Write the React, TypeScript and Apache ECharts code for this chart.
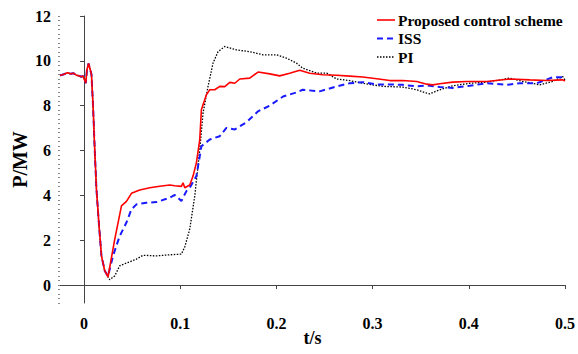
import React, { useEffect, useRef } from "react";
import * as echarts from "echarts";

const seriesNames = ["Proposed control scheme", "ISS", "PI"];

// shared pre-fault and initial drop segment [t (s), P (MW)]
const commonStart: [number, number][] = [
  [-0.025, 9.35], [-0.021, 9.4], [-0.017, 9.47], [-0.014, 9.42], [-0.011, 9.45],
  [-0.008, 9.36], [-0.005, 9.33], [-0.003, 9.29], [-0.001, 9.32], [0.0018, 9.0],
  [0.003, 9.6], [0.0047, 9.88], [0.0077, 9.4], [0.0094, 7.97], [0.0111, 6.04],
  [0.0129, 4.27], [0.0156, 2.64], [0.0181, 1.3], [0.0215, 0.64],
];

const proposedValues: [number, number][] = [
  [0.0249, 0.36], [0.0319, 2.04], [0.0389, 3.53], [0.0441, 3.73], [0.0493, 4.09],
  [0.0579, 4.24], [0.0683, 4.34], [0.0787, 4.41], [0.0891, 4.46], [0.0943, 4.43],
  [0.1012, 4.4], [0.1029, 4.56], [0.1047, 4.34], [0.1099, 4.46], [0.1133, 4.86],
  [0.1168, 5.45], [0.1203, 6.49], [0.122, 7.82], [0.1237, 8.04], [0.1272, 8.49],
  [0.1307, 8.71], [0.1359, 8.71], [0.1411, 8.86], [0.1463, 8.85], [0.1515, 9.04],
  [0.1567, 9.0], [0.1619, 9.19], [0.1722, 9.23], [0.1809, 9.5], [0.193, 9.42],
  [0.2034, 9.33], [0.2138, 9.45], [0.2242, 9.58], [0.2346, 9.45], [0.2481, 9.38],
  [0.2627, 9.36], [0.2762, 9.32], [0.2897, 9.28], [0.3043, 9.2], [0.3178, 9.12],
  [0.3313, 9.12], [0.3459, 9.08], [0.3563, 8.96], [0.3625, 8.93], [0.3698, 8.98],
  [0.3833, 9.05], [0.3979, 9.08], [0.4187, 9.08], [0.4426, 9.19], [0.4634, 9.15],
  [0.481, 9.12], [0.4977, 9.15], [0.5, 9.1],
];

const issValues: [number, number][] = [
  [0.0249, 0.4], [0.0301, 1.3], [0.0371, 2.19], [0.0441, 2.79], [0.0493, 3.38],
  [0.0545, 3.6], [0.0649, 3.67], [0.0753, 3.7], [0.0857, 3.85], [0.0891, 3.9],
  [0.0943, 4.02], [0.1012, 3.75], [0.1064, 4.19], [0.1099, 4.34], [0.1168, 4.86],
  [0.1203, 5.75], [0.122, 6.19], [0.1307, 6.49], [0.1411, 6.64], [0.148, 7.01],
  [0.1567, 6.94], [0.1688, 7.26], [0.1809, 7.75], [0.193, 8.0], [0.2069, 8.41],
  [0.2208, 8.59], [0.2273, 8.71], [0.245, 8.64], [0.2627, 8.86], [0.2762, 9.0],
  [0.2897, 9.05], [0.3043, 8.95], [0.3178, 8.95], [0.3313, 8.93], [0.3459, 8.86],
  [0.3563, 8.9], [0.3698, 8.83], [0.3833, 8.79], [0.401, 8.89], [0.4187, 9.0],
  [0.4395, 8.93], [0.453, 9.0], [0.4706, 9.0], [0.4873, 9.27], [0.4977, 9.27],
  [0.5, 9.2],
];

const piValues: [number, number][] = [
  [0.0249, 0.36], [0.0267, 0.24], [0.0319, 0.41], [0.0371, 0.86], [0.0441, 0.98],
  [0.0545, 1.16], [0.0613, 1.33], [0.0753, 1.3], [0.0891, 1.35], [0.1012, 1.38],
  [0.1047, 1.7], [0.1099, 2.5], [0.1151, 3.97], [0.1203, 6.04], [0.1237, 7.67],
  [0.1289, 8.86], [0.1341, 9.9], [0.1393, 10.41], [0.1463, 10.64], [0.1584, 10.49],
  [0.1722, 10.41], [0.1861, 10.27], [0.2, 10.27], [0.2104, 10.12], [0.2208, 9.9],
  [0.2273, 9.67], [0.2419, 9.45], [0.2523, 9.45], [0.2627, 9.19], [0.2762, 9.12],
  [0.2897, 9.0], [0.3105, 8.86], [0.3313, 8.83], [0.3459, 8.71], [0.3563, 8.56],
  [0.3594, 8.53], [0.3698, 8.71], [0.3833, 8.89], [0.401, 9.0], [0.4187, 9.05],
  [0.4426, 9.23], [0.4561, 9.08], [0.4738, 8.93], [0.4873, 9.08], [0.4977, 9.3],
  [0.5, 9.15],
];

const xTickValues = [0, 0.1, 0.2, 0.3, 0.4, 0.5];
const yTickValues = [0, 2, 4, 6, 8, 10, 12];

const FONT = "'Liberation Serif', 'Times New Roman', serif";

const lineStyles = [
  { color: "#ff0000", width: 1.6, type: "solid" as any },
  { color: "#1a1aff", width: 2, type: [6, 4] as any },
  { color: "#000000", width: 1.3, type: [1.5, 1.5] as any },
];

export default function App() {
  const ref = useRef<HTMLDivElement>(null);
  useEffect(() => {
    if (!ref.current) return;
    const chart = echarts.init(ref.current, null, { renderer: "svg" });
    const axisColor = "#444";
    const legendX = 377;
    const legendY = [20, 38.5, 57];
    const legendGraphics: any[] = [];
    seriesNames.forEach((name, i) => {
      legendGraphics.push({
        type: "line",
        shape: { x1: legendX, y1: legendY[i], x2: legendX + 18, y2: legendY[i] },
        style: { stroke: lineStyles[i].color, lineWidth: lineStyles[i].width, lineDash: Array.isArray(lineStyles[i].type) ? lineStyles[i].type : null },
        z: 10,
      });
      legendGraphics.push({
        type: "text",
        x: legendX + 21,
        y: legendY[i],
        style: {
          text: name,
          fill: "#000",
          font: `bold 15.5px ${FONT}`,
          verticalAlign: "middle",
          align: "left",
        },
        z: 10,
      });
    });
    chart.setOption({
      animation: false,
      backgroundColor: "#fff",
      grid: { left: 60, right: 13, top: 16, bottom: 51, outerBoundsMode: "none", containLabel: false },
      graphic: legendGraphics,
      xAxis: {
        type: "value",
        min: -0.025,
        max: 0.5,
        name: "t/s",
        nameLocation: "middle",
        nameGap: 26,
        nameMoveOverlap: false,
        nameTextStyle: { fontFamily: FONT, fontWeight: "bold", fontSize: 18, color: "#000" },
        axisLine: { show: true, lineStyle: { color: axisColor, width: 1 } },
        axisTick: { show: true, customValues: xTickValues, length: 4, inside: false, lineStyle: { color: axisColor } },
        axisLabel: {
          customValues: xTickValues,
          margin: 12,
          hideOverlap: false,
          fontFamily: FONT,
          fontWeight: "bold",
          fontSize: 16,
          color: "#000",
          formatter: (v: number) => String(Math.round(v * 10) / 10),
        },
        splitLine: { show: false },
      },
      yAxis: [
        {
          type: "value",
          min: -0.8,
          max: 12,
          name: "P/MW",
          nameLocation: "middle",
          nameGap: 30,
          nameMoveOverlap: false,
          nameRotate: 90,
          nameTextStyle: { fontFamily: FONT, fontWeight: "bold", fontSize: 20, color: "#000" },
          axisLine: { show: true, lineStyle: { color: axisColor, width: 1 } },
          axisTick: { show: true, customValues: yTickValues, length: 4, inside: false, lineStyle: { color: axisColor } },
          axisLabel: {
            customValues: yTickValues,
            margin: 9,
            fontFamily: FONT,
            fontWeight: "bold",
            fontSize: 16,
            color: "#000",
          },
          splitLine: { show: false },
        },
        {
          type: "value",
          position: "left",
          min: -0.8,
          max: 12,
          interval: 0.2,
          axisLine: { show: false },
          axisTick: { show: true, length: 2, inside: false, lineStyle: { color: "#888" } },
          axisLabel: { show: false },
          splitLine: { show: false },
        },
      ],
      series: [
        {
          name: seriesNames[0],
          type: "line",
          symbol: "none",
          z: 4,
          data: [...commonStart, ...proposedValues],
          lineStyle: lineStyles[0],
        },
        {
          name: seriesNames[1],
          type: "line",
          symbol: "none",
          z: 3,
          data: [...commonStart, ...issValues],
          lineStyle: lineStyles[1],
        },
        {
          name: seriesNames[2],
          type: "line",
          symbol: "none",
          z: 2,
          data: [...commonStart, ...piValues],
          lineStyle: lineStyles[2],
        },
      ],
    });
    return () => chart.dispose();
  }, []);
  return <div ref={ref} style={{ position: "fixed", left: 0, top: 0, width: 578, height: 354 }} />;
}
